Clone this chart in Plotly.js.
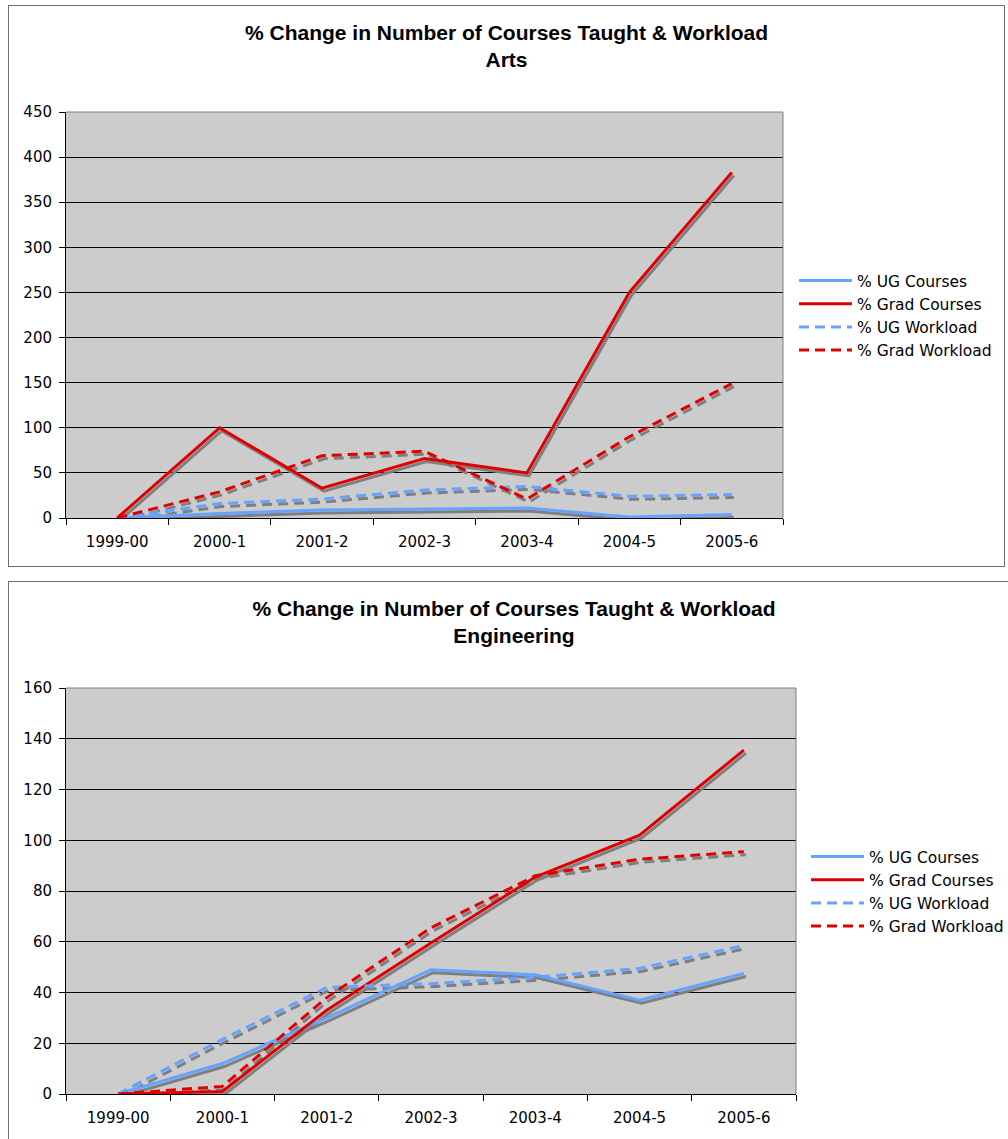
<!DOCTYPE html>
<html>
<head>
<meta charset="utf-8">
<script src="https://cdn.plot.ly/plotly-3.0.1.min.js"></script>
<style>
  html, body { margin: 0; padding: 0; background: #ffffff; overflow: hidden; }
  body { width: 1008px; height: 1139px; position: relative; }
  .chartbox { position: absolute; border: 1px solid #6e6e6e; background: #ffffff; }
  #arts { left: 8px; top: 5px; width: 995px; height: 560px; }
  #eng { left: 8px; top: 581px; width: 1010px; height: 600px; }
</style>
</head>
<body>
<div id="arts" class="chartbox"></div>
<div id="eng" class="chartbox"></div>
<script>
// Academic years on the category axis
const years = ["1999-00", "2000-1", "2001-2", "2002-3", "2003-4", "2004-5", "2005-6"];

// Series names
const seriesNames = ["% UG Courses", "% Grad Courses", "% UG Workload", "% Grad Workload"];

// Arts: % change relative to 1999-00
const artsUgCourses    = [0, 5, 9, 10, 11, 1, 4];
const artsGradCourses  = [0, 100, 33, 66, 50, 250, 383];
const artsUgWorkload   = [0, 16, 21, 31, 35, 24, 26];
const artsGradWorkload = [0, 29, 69, 74, 21, 90, 149];

// Engineering: % change relative to 1999-00
const engUgCourses    = [0, 12, 30, 49, 47, 37, 47.5];
const engGradCourses  = [0, 1, 33, 59.5, 85.5, 102, 135.5];
const engUgWorkload   = [0, 21.5, 42, 43.5, 46, 49.5, 58.5];
const engGradWorkload = [0, 3, 38, 65.5, 86, 92.5, 95.5];

// Y axis tick values
const artsTicks = [0, 50, 100, 150, 200, 250, 300, 350, 400, 450];
const engTicks  = [0, 20, 40, 60, 80, 100, 120, 140, 160];

const BLUE = "#66a3ff";
const RED = "#e00000";
const SHADOW = "#7f7f7f";
const FONT = "DejaVu Sans, Verdana, sans-serif";

function drawChart(divId, subtitle, seriesValues, ticks, box) {
  const plotW = box.width - box.l - box.r;
  const plotH = box.height - box.t - box.b;
  const yMax = ticks[ticks.length - 1];
  // drop shadow: 2px right, 3px down, done by offsetting the shadow axes' ranges
  const dxUnits = 2 * years.length / plotW;
  const dyUnits = 3 * yMax / plotH;

  const styles = [
    { color: BLUE, dash: "solid" },
    { color: RED, dash: "solid" },
    { color: BLUE, dash: "10px,6px" },
    { color: RED, dash: "10px,6px" }
  ];

  const traces = [];
  // transparent trace that keeps the base (labelled) axes populated
  traces.push({
    x: years, y: seriesValues[0], type: "scatter", mode: "lines",
    xaxis: "x", yaxis: "y", showlegend: false, hoverinfo: "skip",
    opacity: 0, line: { width: 0 }
  });
  seriesValues.forEach((vals, i) => {
    traces.push({
      x: years, y: vals, type: "scatter", mode: "lines",
      xaxis: "x2", yaxis: "y2", showlegend: false, hoverinfo: "skip",
      line: { color: SHADOW, width: 3, dash: styles[i].dash }
    });
  });
  seriesValues.forEach((vals, i) => {
    traces.push({
      x: years, y: vals, type: "scatter", mode: "lines",
      xaxis: "x3", yaxis: "y3", name: seriesNames[i],
      line: { color: styles[i].color, width: 3, dash: styles[i].dash }
    });
  });

  const xRange = [-0.5, years.length - 0.5];
  const yRange = [0, yMax];

  const layout = {
    width: box.width, height: box.height,
    margin: { l: box.l, r: box.r, t: box.t, b: box.b, pad: 0 },
    paper_bgcolor: "#ffffff",
    plot_bgcolor: "#cccccc",
    font: { family: FONT, size: 15, color: "#000000" },
    title: {
      text: "% Change in Number of Courses Taught & Workload<br>" + subtitle,
      font: { family: "Liberation Sans, Arial, sans-serif", size: 21, color: "#000000", weight: "bold" },
      xref: "container", x: 0.5, xanchor: "center",
      yref: "container", y: 1 - 34 / box.height, yanchor: "top"
    },
    xaxis: {
      type: "category", categoryorder: "array", categoryarray: years,
      range: xRange, showgrid: false, zeroline: false,
      showline: true, linecolor: "#000000", linewidth: 1,
      ticks: "outside", tickson: "boundaries", ticklen: 6, tickcolor: "#000000",
      ticklabelstandoff: 10,
      tickfont: { family: FONT, size: 15, color: "#000000" },
      fixedrange: true
    },
    yaxis: {
      range: yRange, tickvals: ticks, ticktext: ticks.map(String),
      showgrid: true, gridcolor: "#000000", gridwidth: 1,
      zeroline: false, showline: true, linecolor: "#000000", linewidth: 1,
      ticks: "outside", ticklen: 6, tickcolor: "#000000",
      ticklabelstandoff: 4,
      tickfont: { family: FONT, size: 15, color: "#000000" },
      fixedrange: true
    },
    xaxis2: {
      overlaying: "x", anchor: "y2", type: "category", categoryorder: "array", categoryarray: years,
      range: [xRange[0] - dxUnits, xRange[1] - dxUnits], visible: false, fixedrange: true
    },
    yaxis2: {
      overlaying: "y", anchor: "x2",
      range: [yRange[0] + dyUnits, yRange[1] + dyUnits], visible: false, fixedrange: true
    },
    xaxis3: {
      overlaying: "x", anchor: "y3", type: "category", categoryorder: "array", categoryarray: years,
      range: xRange, visible: false, fixedrange: true
    },
    yaxis3: {
      overlaying: "y", anchor: "x3", range: yRange, visible: false, fixedrange: true
    },
    shapes: [
      { type: "line", xref: "paper", yref: "paper", x0: 0, x1: 1, y0: 1, y1: 1,
        line: { color: "#808080", width: 1 }, layer: "above" },
      { type: "line", xref: "paper", yref: "paper", x0: 1, x1: 1, y0: 0, y1: 1,
        line: { color: "#808080", width: 1 }, layer: "above" }
    ],
    legend: {
      x: box.legendX, y: box.legendY, xref: "container", yref: "container",
      xanchor: "left", yanchor: "top",
      bgcolor: "rgba(255,255,255,0)", borderwidth: 0,
      font: { family: FONT, size: 15.5, color: "#000000" },
      itemwidth: 53, tracegroupgap: 0
    },
    showlegend: true
  };

  Plotly.newPlot(divId, traces, layout, { staticPlot: true, displayModeBar: false });
}

drawChart("arts", "Arts",
  [artsUgCourses, artsGradCourses, artsUgWorkload, artsGradWorkload], artsTicks,
  { width: 995, height: 560, l: 57, r: 221, t: 106, b: 48, legendX: 785 / 995, legendY: 1 - 258 / 560 });

drawChart("eng", "Engineering",
  [engUgCourses, engGradCourses, engUgWorkload, engGradWorkload], engTicks,
  { width: 1010, height: 600, l: 57, r: 223, t: 106, b: 88, legendX: 797 / 1010, legendY: 1 - 258 / 600 });
</script>
</body>
</html>
